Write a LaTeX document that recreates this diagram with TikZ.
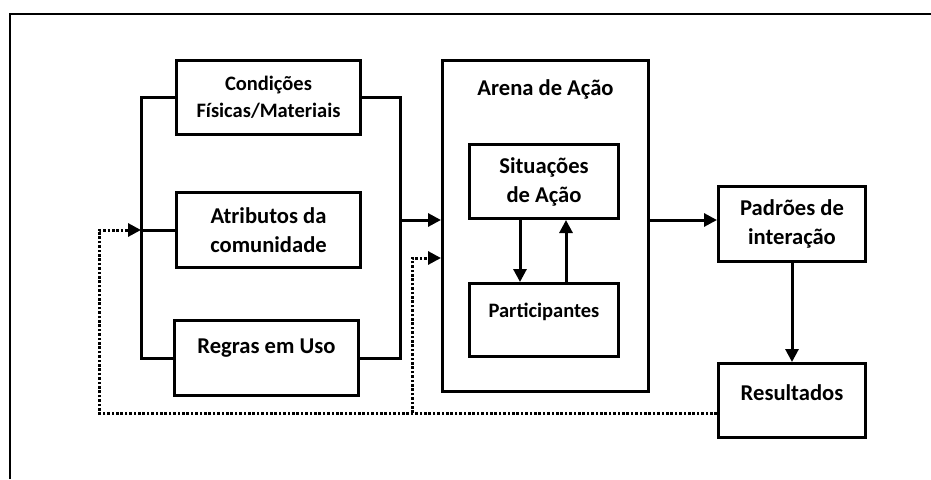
\documentclass[tikz,border=0pt]{standalone}
\usepackage{fontspec}
\setmainfont{Carlito}
\usetikzlibrary{arrows.meta,calc}
\begin{document}
\begin{tikzpicture}[x=1pt,y=1pt,line join=miter,
  big/.style={font=\bfseries\fontsize{22.6}{29}\selectfont, align=center, inner sep=0pt},
  small/.style={font=\bfseries\fontsize{20.5}{27}\selectfont, align=center, inner sep=0pt},
  box/.style={draw, line width=3pt, inner sep=0pt, align=center},
  wire/.style={draw, line width=3pt},
  arr/.style={-{Triangle[length=13pt,width=13pt]}},
  fbline/.style={draw, line width=3pt, dash pattern=on 2.6pt off 1.8pt}]
\useasboundingbox (0,0) rectangle (931,-479);
\draw[line width=2.2pt] (10,-479) -- (10,-14) -- (931,-14);

\node[box, small, minimum width=184pt, minimum height=74pt] (cond) at (268.5,-97.5) {Condições\\Físicas/Materiais};
\node[box, big, minimum width=184pt, minimum height=75pt] (atr) at (268.5,-230) {Atributos da\\comunidade};
\node[box, minimum width=184pt, minimum height=75pt] (reg) at (266.5,-358) {};
\node[big] (regt) at (266.5,-348) {Regras em Uso};

\node[box, minimum width=206pt, minimum height=331pt] (arena) at (545.5,-226) {};
\node[big] (arenat) at (545.5,-89) {Arena de Ação};
\node[box, big, minimum width=149pt, minimum height=74pt] (sit) at (544,-181.5) {Situações\\de Ação};
\node[box, minimum width=149pt, minimum height=73pt] (part) at (544,-320) {};
\node[small] (partt) at (544,-312) {Participantes};

\node[box, big, minimum width=147pt, minimum height=75pt] (pad) at (792,-224) {Padrões de\\interação};
\node[box, minimum width=147pt, minimum height=74pt] (res) at (792,-400.5) {};
\node[big] (rest) at (792,-393) {Resultados};

% left bus
\coordinate (lb) at (141,-230);
\path[wire] (cond.west) -| (lb) |- (reg.west);
\path[wire] (lb) -- (atr.west);
% right bus
\coordinate (rb) at (400,-220);
\path[wire] (cond.east) -| (rb) |- (reg.east);
\path[wire,arr] (rb) -- (rb -| arena.west);

% inside arena
\path[wire,arr] ($(sit.south)+(-24,0)$) -- ($(part.north)+(-24,0)$);
\path[wire,arr] ($(part.north)+(22,0)$) -- ($(sit.south)+(22,0)$);

% arena to padroes
\coordinate (ae) at ($(arena.east)+(0,6)$);
\path[wire,arr] (ae) -- (ae -| pad.west);
% padroes to resultados
\path[wire,arr] (pad.south) -- (res.north);

% feedback dotted
\path (res.west) ++(0,-12.5) coordinate (fbr);
\coordinate (fbl) at (99,-230);
\path[fbline,arr] (fbr) -| (fbl) -- (lb);
\coordinate (br) at (412,-413);
\coordinate (ai) at ($(arena.west)+(0,-32)$);
\path[fbline,arr] (br) |- (ai);
\end{tikzpicture}
\end{document}
